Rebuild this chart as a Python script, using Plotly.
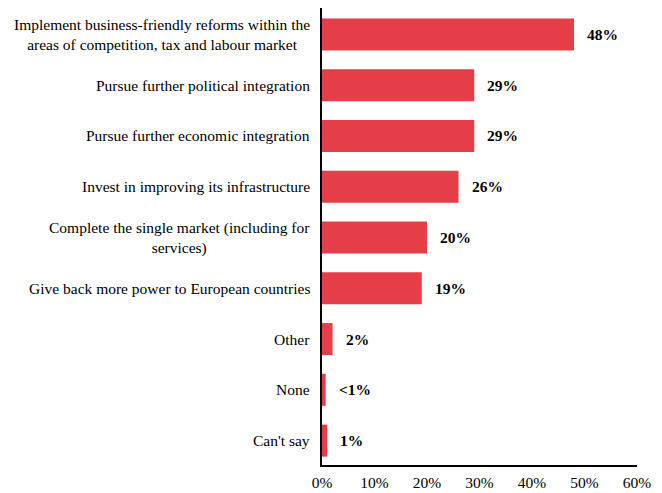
import plotly.graph_objects as go

# Survey answers, top to bottom
categories = [
    "Implement business-friendly reforms within the<br>areas of competition, tax and labour market",
    "Pursue further political integration",
    "Pursue further economic integration",
    "Invest in improving its infrastructure",
    "Complete the single market (including for<br>services)",
    "Give back more power to European countries",
    "Other",
    "None",
    "Can't say",
]
values = [48, 29, 29, 26, 20, 19, 2, 0.7, 1]
value_labels = ["48%", "29%", "29%", "26%", "20%", "19%", "2%", "<1%", "1%"]
x_ticks = [0, 10, 20, 30, 40, 50, 60]
x_tick_labels = ["0%", "10%", "20%", "30%", "40%", "50%", "60%"]

FONT = "Liberation Serif"
FONT_SIZE = 15.5
BAR_COLOR = "#E53E49"

fig = go.Figure(
    go.Bar(
        x=values,
        y=categories,
        orientation="h",
        marker=dict(color=BAR_COLOR, line=dict(width=0)),
        width=0.63,
        hoverinfo="skip",
    )
)

annotations = []
for cat, v, lab in zip(categories, values, value_labels):
    # value label to the right of each bar
    annotations.append(dict(
        x=v, y=cat, xref="x", yref="y", text=f"<b>{lab}</b>",
        showarrow=False, xanchor="left", xshift=11,
        font=dict(family=FONT, size=FONT_SIZE, color="#000000"),
    ))
    # category label, centered lines, right edge just left of the axis
    annotations.append(dict(
        x=0, y=cat, xref="paper", yref="y", text=cat,
        showarrow=False, xanchor="right", align="center", xshift=-10,
        font=dict(family=FONT, size=FONT_SIZE, color="#000000"),
    ))

fig.update_layout(
    width=662, height=493,
    margin=dict(l=322, r=25, t=8, b=28),
    paper_bgcolor="white", plot_bgcolor="white",
    showlegend=False,
    bargap=0.37,
    annotations=annotations,
    font=dict(family=FONT, size=FONT_SIZE, color="#000000"),
    xaxis=dict(
        range=[0, 60], tickvals=x_ticks, ticktext=x_tick_labels,
        showgrid=False, zeroline=False, showline=True,
        linecolor="#000000", linewidth=2, ticks="",
        ticklabelstandoff=2,
        tickfont=dict(family=FONT, size=FONT_SIZE, color="#000000"),
        automargin=False,
        fixedrange=True,
    ),
    yaxis=dict(
        categoryorder="array", categoryarray=categories[::-1],
        range=[-0.48, 8.52],
        showticklabels=False, showgrid=False, zeroline=False,
        showline=True, linecolor="#000000", linewidth=2, ticks="",
        automargin=False,
        fixedrange=True,
    ),
)

fig.write_html("out.html", config={"displayModeBar": False})
